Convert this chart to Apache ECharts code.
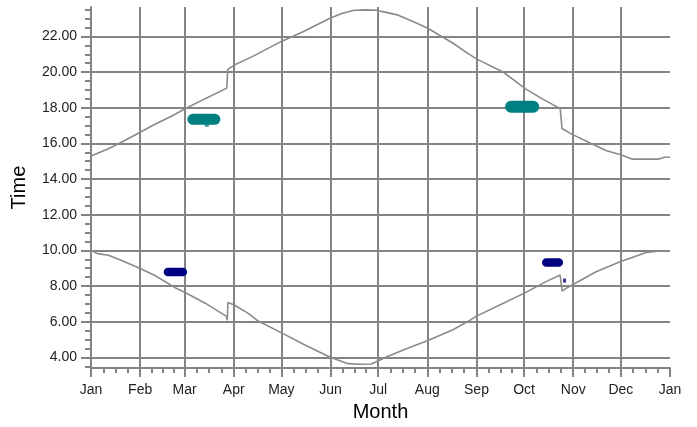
<!DOCTYPE html>
<html><head><meta charset="utf-8">
<script src="https://cdn.jsdelivr.net/npm/echarts@6/dist/echarts.min.js"></script>
<style>html,body{margin:0;padding:0;background:#fff}#c{width:697px;height:427px}</style>
</head><body><div id="c"></div>
<script>
// ---- data ----
const monthLabels = ['Jan','Feb','Mar','Apr','May','Jun','Jul','Aug','Sep','Oct','Nov','Dec','Jan'];
const monthStartDays = [0,31,59,90,120,151,181,212,243,273,304,334,365];
const timeTicks = [4,6,8,10,12,14,16,18,20,22];

const sunsetDays  = [0, 11, 21, 31, 40, 51, 59, 72, 85.6, 86.2, 90, 102, 120, 134, 150, 158, 166, 173, 180, 186, 193, 203, 212, 228, 238, 243, 260, 274, 285, 295.8, 296.9, 303, 314, 325, 334, 341, 358, 361.5, 365];
const sunsetTimes = [15.30, 15.70, 16.15, 16.63, 17.06, 17.54, 17.93, 18.51, 19.10, 20.15, 20.38, 20.88, 21.72, 22.28, 22.99, 23.28, 23.47, 23.49, 23.47, 23.35, 23.21, 22.84, 22.47, 21.63, 21.02, 20.74, 19.99, 19.06, 18.47, 17.95, 16.84, 16.52, 16.05, 15.59, 15.36, 15.12, 15.12, 15.22, 15.22];

const sunriseDays  = [0, 4, 11, 19, 31, 40, 53, 59, 72, 85.4, 85.9, 86.3, 90.3, 98.9, 105.4, 120.5, 135.8, 150.5, 162, 170, 176.8, 180.5, 186.2, 198.8, 212, 228.2, 238.2, 243.3, 258, 273.5, 286.9, 295.7, 297.0, 299.5, 303.3, 318.4, 333.5, 350, 357, 365];
const sunriseTimes = [10.00, 9.82, 9.73, 9.45, 8.99, 8.61, 7.91, 7.65, 7.04, 6.30, 6.08, 7.08, 6.94, 6.48, 6.04, 5.36, 4.65, 4.02, 3.65, 3.62, 3.63, 3.78, 4.02, 4.49, 4.93, 5.55, 6.05, 6.33, 6.95, 7.62, 8.25, 8.62, 7.72, 7.87, 8.06, 8.80, 9.36, 9.88, 9.95, 9.96];

const tealSpringDays  = [64.2, 71, 78.1];
const tealSpringTimes = [17.35, 17.35, 17.35];
const tealAutumnDays  = [264.8, 271, 278.8];
const tealAutumnTimes = [18.05, 18.05, 18.05];
const navySpringDays  = [48.5, 54, 57.9];
const navySpringTimes = [8.79, 8.79, 8.79];
const navyAutumnDays  = [287.0, 291, 294.9];
const navyAutumnTimes = [9.32, 9.32, 9.32];
const navyDotDays  = [298.5];
const navyDotTimes = [8.31];
const tealBumpDays  = [73];
const tealBumpTimes = [17.05];

// ---- helpers ----
const pairs = (xs, ys) => xs.map((x, i) => [x, ys[i]]);
const quarterTicks = [];
for (let i = 0; i < monthStartDays.length - 1; i++) {
  const a = monthStartDays[i], b = monthStartDays[i + 1];
  for (let k = 1; k < 4; k++) quarterTicks.push(a + (b - a) * k / 4);
}
const halfHourTicks = [];
for (let v = 3.5; v <= 23.5; v += 0.5) halfHourTicks.push(v);

const FONT = '"Liberation Sans", Arial, sans-serif';
const GRID_COLOR = '#838383';
const XMIN = 0, XMAX = 365, YMIN = 3.4, YMAX = 23.65;

const chart = echarts.init(document.getElementById('c'), null, {renderer: 'canvas'});
chart.setOption({
  animation: false,
  backgroundColor: '#fff',
  grid: {left: 91, right: 27, top: 7, bottom: 57, containLabel: false},
  xAxis: [
    { // main: labels, major ticks, axis line
      type: 'value', min: XMIN, max: XMAX, position: 'bottom', offset: 0,
      name: 'Month', nameLocation: 'middle', nameGap: 33,
      nameTextStyle: {fontFamily: FONT, fontSize: 20, color: '#000'},
      axisLine: {show: true, lineStyle: {color: GRID_COLOR, width: 2}},
      axisTick: {show: true, length: 9, customValues: monthStartDays, lineStyle: {color: GRID_COLOR, width: 2}},
      axisLabel: {customValues: monthStartDays, margin: 15, fontFamily: FONT, fontSize: 14, color: '#222',
        formatter: v => monthLabels[monthStartDays.indexOf(Math.round(v))] || ''},
      splitLine: {show: false}
    },
    { // vertical grid lines
      type: 'value', min: XMIN, max: XMAX, position: 'bottom', offset: 0,
      axisLine: {show: false},
      axisTick: {show: false, customValues: monthStartDays.slice(1, -1)},
      axisLabel: {show: false},
      splitLine: {show: true, lineStyle: {color: GRID_COLOR, width: 2}}
    },
    { // minor ticks
      type: 'value', min: XMIN, max: XMAX, position: 'bottom', offset: 0,
      axisLine: {show: false},
      axisTick: {show: true, length: 5, customValues: quarterTicks, lineStyle: {color: GRID_COLOR, width: 2}},
      axisLabel: {show: false},
      splitLine: {show: false}
    }
  ],
  yAxis: [
    {
      type: 'value', min: YMIN, max: YMAX, position: 'left', offset: 0,
      name: 'Time', nameLocation: 'middle', nameGap: 62, nameRotate: 90,
      nameTextStyle: {fontFamily: FONT, fontSize: 20, color: '#000'},
      axisLine: {show: true, lineStyle: {color: GRID_COLOR, width: 2}},
      axisTick: {show: true, length: 10, customValues: timeTicks, lineStyle: {color: GRID_COLOR, width: 2}},
      axisLabel: {customValues: timeTicks, margin: 14, fontFamily: FONT, fontSize: 14, color: '#222',
        formatter: v => Number(v).toFixed(2)},
      splitLine: {show: true, lineStyle: {color: GRID_COLOR, width: 2}}
    },
    {
      type: 'value', min: YMIN, max: YMAX, position: 'left', offset: 0,
      axisLine: {show: false},
      axisTick: {show: true, length: 6, customValues: halfHourTicks, lineStyle: {color: GRID_COLOR, width: 2}},
      axisLabel: {show: false},
      splitLine: {show: false}
    }
  ],
  series: [
    {name: 'Sunset', type: 'line', data: pairs(sunsetDays, sunsetTimes), showSymbol: false, symbol: 'none',
      lineStyle: {color: '#8a8a8a', width: 1.6}, z: 3},
    {name: 'Sunrise', type: 'line', data: pairs(sunriseDays, sunriseTimes), showSymbol: false, symbol: 'none',
      lineStyle: {color: '#8a8a8a', width: 1.6}, z: 3},
    {type: 'line', data: pairs(tealSpringDays, tealSpringTimes), symbol: 'none',
      lineStyle: {color: '#008080', width: 11, cap: 'round'}, z: 4},
    {type: 'line', data: pairs(tealAutumnDays, tealAutumnTimes), symbol: 'none',
      lineStyle: {color: '#008080', width: 12, cap: 'round'}, z: 4},
    {type: 'scatter', data: pairs(tealBumpDays, tealBumpTimes), symbol: 'rect', symbolSize: [4, 4],
      itemStyle: {color: '#008080'}, z: 4},
    {type: 'line', data: pairs(navySpringDays, navySpringTimes), symbol: 'none',
      lineStyle: {color: '#000080', width: 8.5, cap: 'round'}, z: 4},
    {type: 'line', data: pairs(navyAutumnDays, navyAutumnTimes), symbol: 'none',
      lineStyle: {color: '#000080', width: 8.5, cap: 'round'}, z: 4},
    {type: 'scatter', data: pairs(navyDotDays, navyDotTimes), symbol: 'rect', symbolSize: [3, 4],
      itemStyle: {color: '#000080'}, z: 4}
  ]
});
</script>
</body></html>
